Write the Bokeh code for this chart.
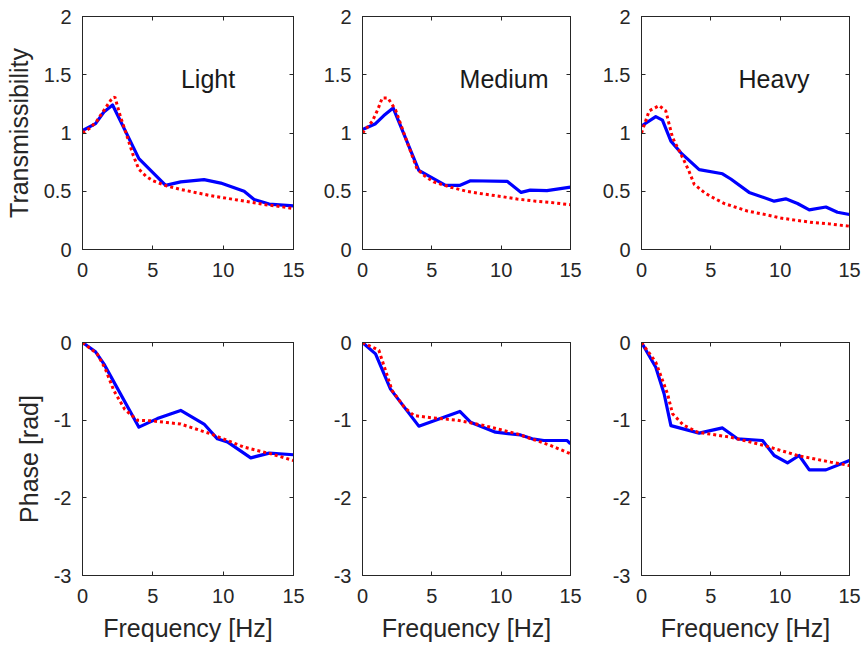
from bokeh.plotting import figure
from bokeh.layouts import row, column
from bokeh.models import Range1d, FixedTicker, LinearAxis
from bokeh.core.properties import value
from bokeh.embed import file_html
from bokeh.resources import INLINE

loads = ["Light", "Medium", "Heavy"]

# ---- Transmissibility: measured (blue) ----
light_mag_f = [0, 0.93, 1.52, 2.14, 4.01, 5.91, 6.98, 8.64, 9.83, 11.49, 12.2, 13.27, 15]
light_mag_v = [1.02, 1.08, 1.18, 1.24, 0.78, 0.55, 0.58, 0.60, 0.57, 0.50, 0.43, 0.39, 0.375]
medium_mag_f = [0, 0.94, 1.54, 2.21, 4.06, 5.99, 7.0, 7.79, 10.43, 11.44, 12.1, 13.3, 15]
medium_mag_v = [1.03, 1.08, 1.15, 1.215, 0.68, 0.55, 0.55, 0.59, 0.585, 0.49, 0.51, 0.505, 0.535]
heavy_mag_f = [0, 1.03, 1.51, 2.12, 2.84, 4.16, 5.84, 6.44, 7.76, 9.57, 10.4, 11.25, 12.1, 13.3, 14.13, 15]
heavy_mag_v = [1.06, 1.14, 1.11, 0.93, 0.83, 0.685, 0.65, 0.605, 0.49, 0.415, 0.435, 0.395, 0.34, 0.365, 0.32, 0.30]

# ---- Transmissibility: model (red dotted) ----
light_mod_f = [0, 0.5, 1.0, 1.5, 2.0, 2.3, 2.7, 3.2, 3.6, 4.0, 4.5, 5, 6, 7, 8, 9, 10, 11, 12, 13, 14, 15]
light_mod_v = [1.0, 1.04, 1.1, 1.19, 1.28, 1.31, 1.14, 0.96, 0.81, 0.69, 0.63, 0.59, 0.545, 0.515, 0.49,
               0.465, 0.445, 0.425, 0.405, 0.385, 0.37, 0.35]
medium_mod_f = [0, 0.7, 1.1, 1.42, 1.83, 2.38, 3.1, 3.94, 4.5, 5.14, 6.35, 7.5, 8.75, 10, 11.15, 12.5, 13.56, 15]
medium_mod_v = [1.0, 1.1, 1.2, 1.30, 1.30, 1.2, 0.96, 0.69, 0.63, 0.58, 0.535, 0.50, 0.476, 0.455, 0.433,
                0.415, 0.404, 0.384]
heavy_mod_f = [0, 0.55, 1.27, 1.75, 2.24, 2.96, 3.4, 3.8, 4.52, 5.0, 5.96, 7.64, 9.0, 10.05, 11.2, 12.45, 13.5, 15]
heavy_mod_v = [1.0, 1.19, 1.235, 1.19, 0.96, 0.79, 0.68, 0.56, 0.49, 0.455, 0.395, 0.33, 0.298, 0.27, 0.25,
               0.23, 0.22, 0.20]

# ---- Phase: measured (blue) ----
light_ph_f = [0, 0.93, 1.52, 4.01, 5.32, 6.98, 8.64, 9.59, 10.3, 11.96, 13.27, 15]
light_ph_v = [0, -0.12, -0.275, -1.09, -0.98, -0.875, -1.05, -1.24, -1.28, -1.485, -1.425, -1.445]
medium_ph_f = [0, 0.94, 2.02, 4.06, 7.02, 7.79, 9.59, 11.39, 12.24, 13.08, 14.76, 15]
medium_ph_v = [0, -0.146, -0.6, -1.077, -0.888, -1.026, -1.155, -1.19, -1.24, -1.262, -1.262, -1.305]
heavy_ph_f = [0, 1.03, 1.63, 2.12, 4.16, 5.84, 6.92, 8.73, 9.57, 10.53, 11.37, 12.1, 13.3, 15]
heavy_ph_v = [0, -0.318, -0.66, -1.07, -1.167, -1.1, -1.24, -1.262, -1.455, -1.55, -1.455, -1.64, -1.64, -1.52]

# ---- Phase: model (red dotted) ----
light_phm_f = [0, 1.04, 1.6, 2.23, 3.0, 3.89, 5, 6, 6.98, 9.11, 11.49, 13.39, 15]
light_phm_v = [0, -0.146, -0.33, -0.62, -0.86, -1.0, -1.01, -1.03, -1.05, -1.176, -1.348, -1.433, -1.52]
medium_phm_f = [0, 1.18, 2.14, 3.0, 3.7, 5.0, 6.83, 8.75, 11.15, 13.56, 15]
medium_phm_v = [0, -0.10, -0.62, -0.83, -0.94, -0.97, -1.0, -1.069, -1.176, -1.326, -1.433]
heavy_phm_f = [0, 1.03, 1.875, 2.24, 3.0, 4.04, 6.44, 8.85, 11.25, 13.65, 15]
heavy_phm_v = [0, -0.253, -0.66, -0.918, -1.06, -1.155, -1.22, -1.326, -1.455, -1.54, -1.584]

x_ticks = [0, 5, 10, 15]
mag_ticks = [0, 0.5, 1, 1.5, 2]
mag_tick_labels = ["0", "0.5", "1", "1.5", "2"]
ph_ticks = [-3, -2, -1, 0]
ph_tick_labels = ["-3", "-2", "-1", "0"]

FONT = "Liberation Sans"
AX = "#262626"
BLUE = "#0000FF"
RED = "#FF0000"

mag_meas = [(light_mag_f, light_mag_v), (medium_mag_f, medium_mag_v), (heavy_mag_f, heavy_mag_v)]
mag_mod = [(light_mod_f, light_mod_v), (medium_mod_f, medium_mod_v), (heavy_mod_f, heavy_mod_v)]
ph_meas = [(light_ph_f, light_ph_v), (medium_ph_f, medium_ph_v), (heavy_ph_f, heavy_ph_v)]
ph_mod = [(light_phm_f, light_phm_v), (medium_phm_f, medium_phm_v), (heavy_phm_f, heavy_phm_v)]

borders_lr = [(82, 211, 14), (55, 208, 14), (57, 208, 14)]


def style_axis(ax, ticks, labels=None, show_labels=True, standoff=10):
    ax.ticker = FixedTicker(ticks=ticks)
    if labels is not None:
        ax.major_label_overrides = {t: l for t, l in zip(ticks, labels)}
    ax.major_tick_in = 4
    ax.major_tick_out = 0
    ax.minor_tick_line_color = None
    ax.axis_line_color = AX
    ax.major_tick_line_color = AX
    ax.major_label_text_font = FONT
    if show_labels:
        ax.major_label_text_color = AX
        ax.major_label_text_font_size = "20px"
        ax.major_label_standoff = standoff
    else:
        ax.major_label_text_color = None
        ax.major_label_text_font_size = "1px"
        ax.major_label_standoff = 0
    ax.axis_label_text_font = FONT
    ax.axis_label_text_font_size = "25px"
    ax.axis_label_text_font_style = "normal"
    ax.axis_label_text_color = AX


def make_panel(col, top, data_meas, data_mod, yr, yticks, ylabels, ylab, xlab, tb):
    bl, fw, br = borders_lr[col]
    btop, bbot = tb
    p = figure(frame_width=fw, frame_height=233, output_backend="svg", toolbar_location=None,
               x_range=Range1d(0, 15), y_range=Range1d(*yr),
               min_border_left=bl, min_border_right=br, min_border_top=btop, min_border_bottom=bbot)
    p.grid.visible = False
    p.outline_line_color = AX
    p.outline_line_width = 1
    p.background_fill_color = "white"
    p.border_fill_color = "white"
    style_axis(p.xaxis[0], x_ticks, standoff=13)
    style_axis(p.yaxis[0], yticks, ylabels, standoff=11)
    if col == 0:
        p.yaxis[0].axis_label = ylab
        p.yaxis[0].axis_label_standoff = 8
    if xlab:
        p.xaxis[0].axis_label = xlab
        p.xaxis[0].axis_label_standoff = 8
    ra = LinearAxis()
    style_axis(ra, yticks, show_labels=False)
    p.add_layout(ra, "right")
    ta = LinearAxis()
    style_axis(ta, x_ticks, show_labels=False)
    p.add_layout(ta, "above")
    fm, vm = data_meas
    fr, vr = data_mod
    p.line(fm, vm, line_color=BLUE, line_width=3.2, line_join="round")
    p.line(fr, vr, line_color=RED, line_width=3, line_dash="3 3", line_cap="butt")
    if top:
        p.text(x=[7.0], y=[1.46], text=[loads[col]], text_font=value(FONT), text_font_size="25px",
               text_color="#1a1a1a", text_align="left", text_baseline="middle")
    return p


top_row = [make_panel(i, True, mag_meas[i], mag_mod[i], (0, 2), mag_ticks, mag_tick_labels,
                      "Transmissibility", None, (16, 40)) for i in range(3)]
bot_row = [make_panel(i, False, ph_meas[i], ph_mod[i], (-3, 0), ph_ticks, ph_tick_labels,
                      "Phase [rad]", "Frequency [Hz]", (53, 73)) for i in range(3)]

layout = column(row(*top_row), row(*bot_row))

with open("out.html", "w") as fh:
    fh.write(file_html(layout, INLINE))
